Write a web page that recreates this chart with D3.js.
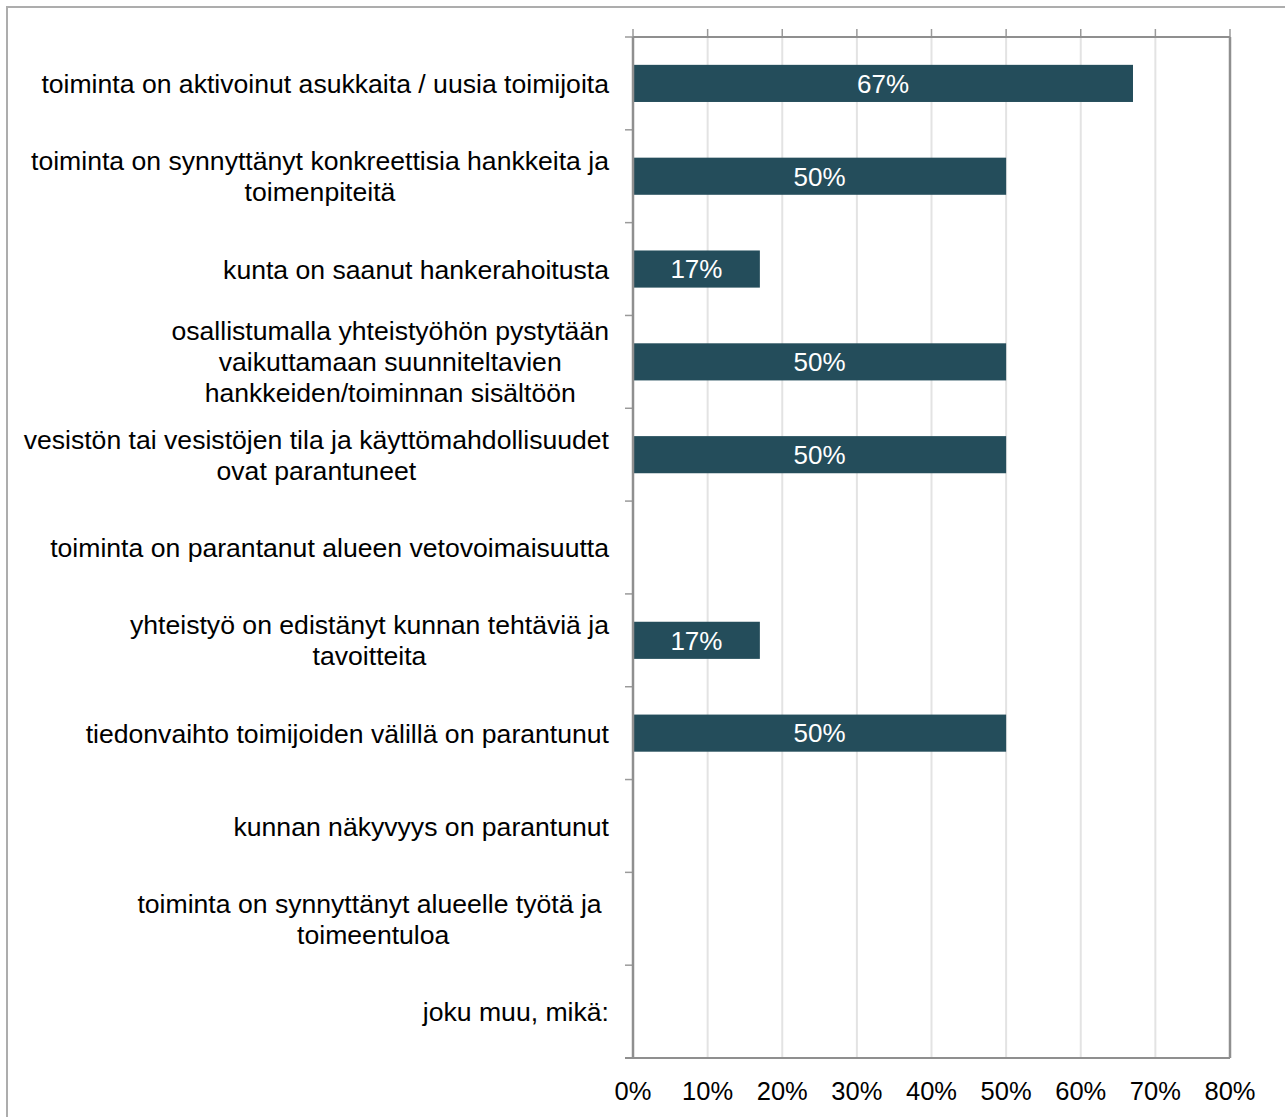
<!DOCTYPE html>
<html><head><meta charset="utf-8">
<script src="https://cdn.jsdelivr.net/npm/d3@7"></script>
<style>html,body{margin:0;padding:0;background:#fff;}svg{display:block;font-family:"Liberation Sans",Arial,sans-serif;}</style>
</head><body>
<svg id="c" width="1285" height="1117"></svg>
<script>
const categories = [
  ["toiminta on aktivoinut asukkaita / uusia toimijoita"],
  ["toiminta on synnyttänyt konkreettisia hankkeita ja", "toimenpiteitä"],
  ["kunta on saanut hankerahoitusta"],
  ["osallistumalla yhteistyöhön pystytään", "vaikuttamaan suunniteltavien", "hankkeiden/toiminnan sisältöön"],
  ["vesistön tai vesistöjen tila ja käyttömahdollisuudet", "ovat parantuneet"],
  ["toiminta on parantanut alueen vetovoimaisuutta"],
  ["yhteistyö on edistänyt kunnan tehtäviä ja", "tavoitteita"],
  ["tiedonvaihto toimijoiden välillä on parantunut"],
  ["kunnan näkyvyys on parantunut"],
  ["toiminta on synnyttänyt alueelle työtä ja ", "toimeentuloa"],
  ["joku muu, mikä:"]
];
const values = [67, 50, 17, 50, 50, 0, 17, 50, 0, 0, 0];
const xTicks = [0, 10, 20, 30, 40, 50, 60, 70, 80];

const svg = d3.select("#c");
const L = 633, R = 1230, T = 37, B = 1058;

// outer frame
svg.append("rect").attr("x", 7).attr("y", 7).attr("width", 1400).attr("height", 1300)
  .attr("fill", "none").attr("stroke", "#adadad").attr("stroke-width", 2);

const x = d3.scaleLinear().domain([0, 80]).range([L, R]);
const ids = categories.map((d, i) => i);
const y = d3.scaleBand().domain(ids).range([T, B]).paddingInner(0.6).paddingOuter(0.3);
const step = (B - T) / categories.length;

// gridlines
svg.append("g").selectAll("line").data(xTicks.slice(1, -1)).join("line")
  .attr("x1", d => x(d)).attr("x2", d => x(d)).attr("y1", T).attr("y2", B)
  .attr("stroke", "#e3e3e3").attr("stroke-width", 2);

// top tick marks
svg.append("g").selectAll("line").data(xTicks).join("line")
  .attr("x1", d => x(d)).attr("x2", d => x(d)).attr("y1", T - 8).attr("y2", T)
  .attr("stroke", "#9a9a9a").attr("stroke-width", 1.5);

// left tick marks
svg.append("g").selectAll("line").data(d3.range(categories.length + 1)).join("line")
  .attr("x1", L - 8).attr("x2", L).attr("y1", d => T + d * step).attr("y2", d => T + d * step)
  .attr("stroke", "#9a9a9a").attr("stroke-width", 1.5);

// bars
svg.append("g").selectAll("rect").data(values).join("rect")
  .attr("x", x(0)).attr("y", (d, i) => y(i))
  .attr("width", d => x(d) - x(0)).attr("height", y.bandwidth())
  .attr("fill", "#244d5b");

// plot border
svg.append("line").attr("x1", L).attr("x2", R).attr("y1", T).attr("y2", T).attr("stroke", "#8f8f8f").attr("stroke-width", 2);
svg.append("line").attr("x1", R).attr("x2", R).attr("y1", T).attr("y2", B).attr("stroke", "#8f8f8f").attr("stroke-width", 2.5);
svg.append("line").attr("x1", L - 8).attr("x2", R).attr("y1", B).attr("y2", B).attr("stroke", "#8f8f8f").attr("stroke-width", 2);
svg.append("line").attr("x1", L).attr("x2", L).attr("y1", T).attr("y2", B).attr("stroke", "#8f8f8f").attr("stroke-width", 2.5);

// value labels
svg.append("g").selectAll("text").data(values.map((v, i) => ({v, i})).filter(d => d.v > 0)).join("text")
  .attr("x", d => (x(0) + x(d.v)) / 2).attr("y", d => y(d.i) + y.bandwidth() / 2)
  .attr("dy", "0.36em").attr("text-anchor", "middle")
  .attr("fill", "#fff").attr("font-size", 26).text(d => d.v + "%");

// category labels
const lh = 31;
const lg = svg.append("g").attr("font-size", 26.6).attr("fill", "#000");
categories.forEach((lines, i) => {
  const cy = y(i) + y.bandwidth() / 2;
  const g = lg.append("g");
  const texts = lines.map((t, k) => g.append("text").attr("xml:space", "preserve").style("white-space", "pre")
    .attr("y", cy + (k - (lines.length - 1) / 2) * lh).attr("dy", "0.36em").attr("text-anchor", "middle").text(t));
  const maxW = d3.max(texts, t => t.node().getComputedTextLength());
  const cx = 609 - maxW / 2;
  texts.forEach(t => t.attr("x", cx));
});

// x axis labels
svg.append("g").selectAll("text").data(xTicks).join("text")
  .attr("x", d => x(d)).attr("y", 1091).attr("dy", "0.36em").attr("text-anchor", "middle")
  .attr("font-size", 25.5).attr("fill", "#000").text(d => d + "%");
</script>
</body></html>
